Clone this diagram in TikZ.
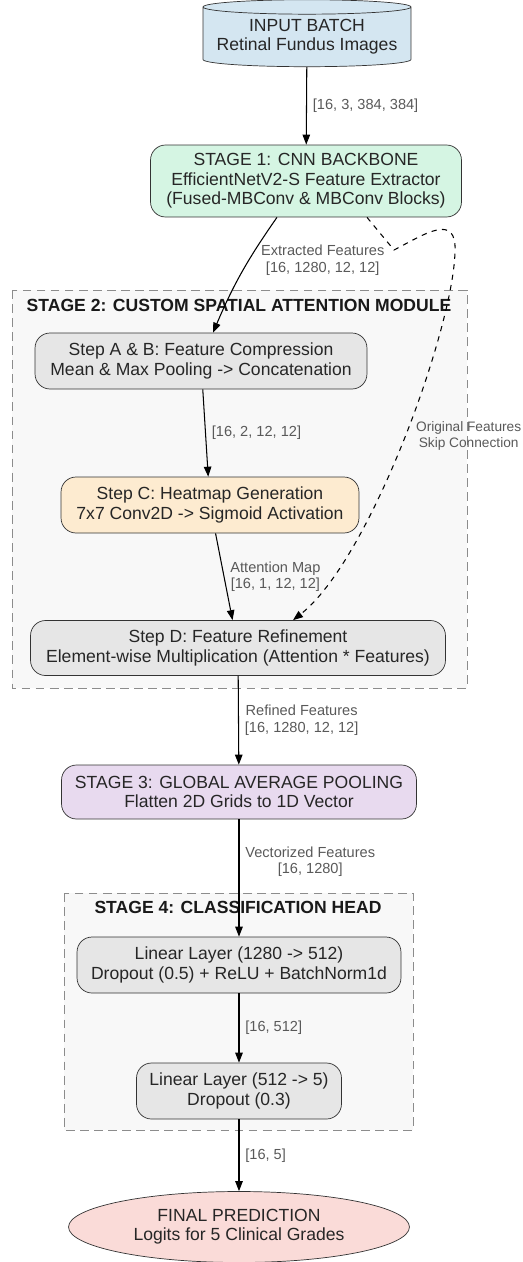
\documentclass[tikz,border=0pt]{standalone}
\usepackage{fontspec}
\setmainfont{Liberation Sans}
\usetikzlibrary{shapes.geometric, arrows.meta, positioning, calc}
\definecolor{inblue}{HTML}{D4E6F1}
\definecolor{bbgreen}{HTML}{D5F5E3}
\definecolor{stepgray}{HTML}{E6E6E6}
\definecolor{heatorange}{HTML}{FDEBD0}
\definecolor{poolpurple}{HTML}{E8DAEF}
\definecolor{predred}{HTML}{FADBD8}
\definecolor{grpfill}{HTML}{F8F8F8}

\begin{document}
\begin{tikzpicture}[x=0.02cm, y=-0.02cm,
        box/.style={draw=black!80, rounded corners=0.3cm, align=center, inner sep=0pt,
                    font=\fontsize{10}{11}\selectfont, text=black!85},
        grp/.style={draw=black!45, dash pattern=on 5pt off 3pt, fill=grpfill},
        grptitle/.style={font=\bfseries\fontsize{10}{11}\selectfont, text=black!90},
        arr/.style={-{Triangle[length=0.2cm, width=0.15cm]}, line width=0.6pt},
        lbl/.style={font=\fontsize{8.3}{9.5}\selectfont, text=black!65, align=center}
    ]
        \useasboundingbox (0,0) rectangle (523,1262);

        % clusters
        \draw[grp] (12,290) rectangle (467,688);
        \draw[grp] (64,893) rectangle (413,1130);
        \node[grptitle] (stage2title) at (239,305) {STAGE 2: CUSTOM SPATIAL ATTENTION MODULE};
        \node[grptitle] (stage4title) at (238,907) {STAGE 4: CLASSIFICATION HEAD};

        \node[cylinder, shape border rotate=90, aspect=0.08, draw=black!80, fill=inblue, align=center,
              inner sep=0pt, minimum width=4.16cm, minimum height=1.34cm,
              font=\fontsize{10}{11}\selectfont, text=black!85] (input) at (307,37) {INPUT BATCH\\Retinal Fundus Images};
        \node[box, fill=bbgreen, minimum width=6.22cm, minimum height=1.44cm] (stage1) at (306,181)
              {STAGE 1: CNN BACKBONE\\EfficientNetV2-S Feature Extractor\\(Fused-MBConv \& MBConv Blocks)};
        \node[box, fill=stepgray, minimum width=6.64cm, minimum height=1.12cm] (stepab) at (201,361)
              {Step A \& B: Feature Compression\\Mean \& Max Pooling -> Concatenation};
        \node[box, fill=heatorange, minimum width=5.96cm, minimum height=1.12cm] (stepc) at (210,505)
              {Step C: Heatmap Generation\\7x7 Conv2D -> Sigmoid Activation};
        \node[box, fill=stepgray, minimum width=8.3cm, minimum height=1.1cm] (stepd) at (238,648)
              {Step D: Feature Refinement\\Element-wise Multiplication (Attention * Features)};
        \node[box, fill=poolpurple, minimum width=7.1cm, minimum height=1.08cm] (stage3) at (239,792)
              {STAGE 3: GLOBAL AVERAGE POOLING\\Flatten 2D Grids to 1D Vector};
        \node[box, fill=stepgray, minimum width=6.48cm, minimum height=1.12cm] (lin1) at (239,965)
              {Linear Layer (1280 -> 512)\\Dropout (0.5) + ReLU + BatchNorm1d};
        \node[box, fill=stepgray, minimum width=4.1cm, minimum height=1.12cm] (lin2) at (239,1091)
              {Linear Layer (512 -> 5)\\Dropout (0.3)};
        \node[ellipse, draw=black!80, fill=predred, align=center, inner sep=0pt, minimum width=6.82cm,
              minimum height=1.42cm, font=\fontsize{10}{11}\selectfont, text=black!85] (final) at (239,1227)
              {FINAL PREDICTION\\Logits for 5 Clinical Grades};

        \draw[arr] (input) -- node[lbl, right]{[16, 3, 384, 384]} (stage1);
        \draw[arr] ([xshift=-0.58cm]stage1.south) to[bend right=6]
              node[lbl, right, pos=0.38, xshift=0.12cm]{Extracted Features\\{}[16, 1280, 12, 12]} ([xshift=0.24cm]stepab.north);
        \draw[arr] (stepab) -- node[lbl, right]{[16, 2, 12, 12]} (stepc);
        \draw[arr] (stepc) -- node[lbl, right]{Attention Map\\{}[16, 1, 12, 12]} (stepd);
        \draw[arr, dashed] ([xshift=1.22cm]stage1.south) -- (394,250) .. controls (425,234) and (457,212) .. (455,252)
              .. controls (453,330) and (370,560) .. ([xshift=1.1cm]stepd.north);
        \node[lbl, anchor=west, font=\fontsize{7.8}{9.5}\selectfont, inner sep=1pt] (skiplbl) at (414,436)
              {Original Features\\Skip Connection};
        \draw[arr] (stepd) -- node[lbl, right]{Refined Features\\{}[16, 1280, 12, 12]} (stage3);
        \draw[arr] (stage3) -- node[lbl, right, pos=0.36]{Vectorized Features\\{}[16, 1280]} (lin1);
        \draw[arr] (lin1) -- node[lbl, right]{[16, 512]} (lin2);
        \draw[arr] (lin2) -- node[lbl, right]{[16, 5]} (final);
    \end{tikzpicture}
\end{document}
